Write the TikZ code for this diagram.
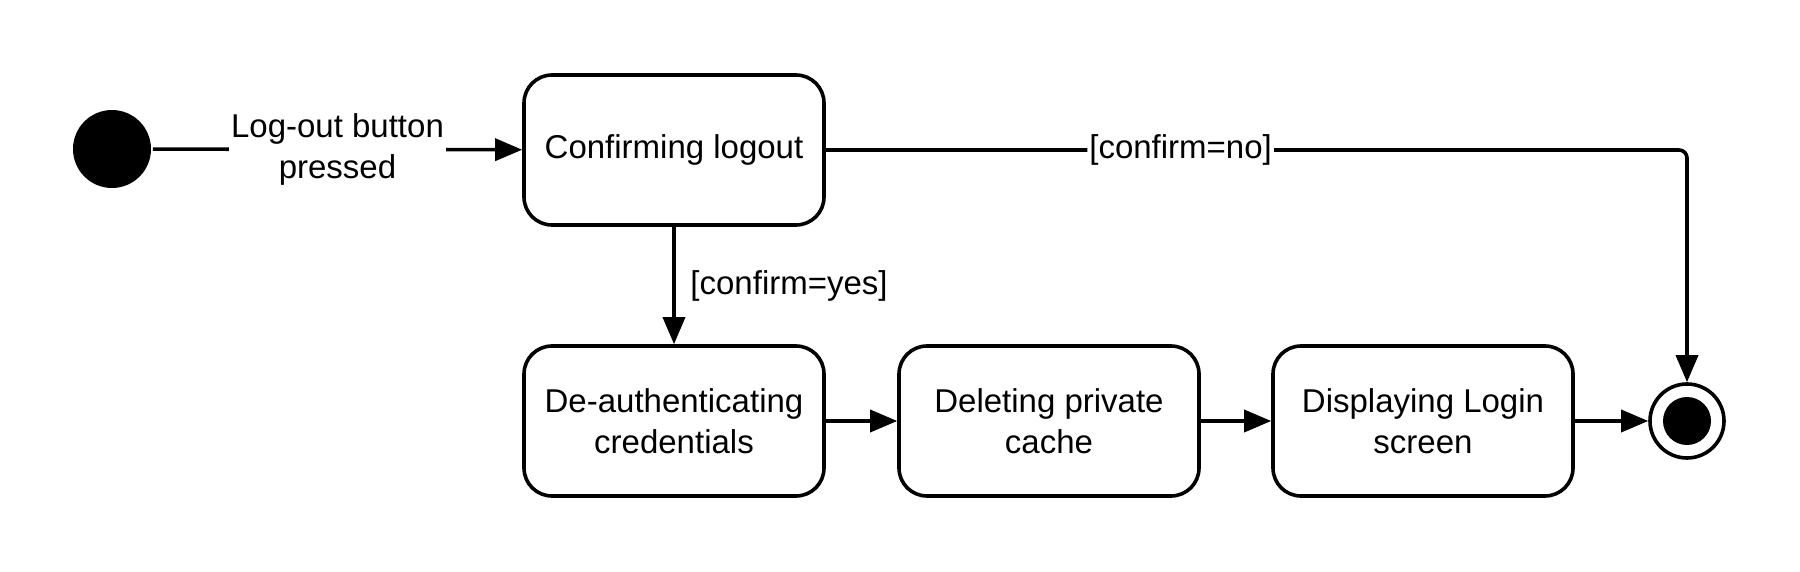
\documentclass[tikz,border=0pt]{standalone}
\usepackage{fontspec}
\setmainfont{Liberation Sans}
\usetikzlibrary{arrows.meta}

\begin{document}
\begin{tikzpicture}[x=0.5pt,y=-0.5pt,line width=1.8pt,
    every node/.style={font=\fontsize{16.5pt}{20.5pt}\selectfont},
    state/.style={draw,rounded corners=14pt,minimum width=150pt,minimum height=75pt,align=center,inner sep=2pt},
    trans/.style={-{Triangle[length=13.5pt,width=11pt]}},
    guard/.style={fill=white,inner sep=1pt,align=center}]
    \useasboundingbox (0,0) rectangle (1800,572);
    \node[fill=black,circle,minimum size=39pt,inner sep=0pt] (start) at (112,149) {};
    \node[state] (confirm) at (674,150) {Confirming logout};
    \node[state] (deauth) at (674,421) {De-authenticating\\credentials};
    \node[state] (cache) at (1049,421) {Deleting private\\cache};
    \node[state] (login) at (1423,421) {Displaying Login\\screen};
    \node[draw,circle,minimum size=37pt,inner sep=0pt] (final) at (1687,421) {};
    \node[fill=black,circle,minimum size=24pt,inner sep=0pt] (finaldot) at (final) {};
    \draw[trans] (start) -- node[guard]{Log-out button\\pressed} (confirm);
    \draw[trans,rounded corners=4pt] (confirm.east) -| node[guard,pos=0.206]{[confirm=no]} (final.north);
    \draw[trans] (confirm) -- node[right=4pt]{[confirm=yes]} (deauth);
    \draw[trans] (deauth) -- (cache);
    \draw[trans] (cache) -- (login);
    \draw[trans] (login) -- (final);
\end{tikzpicture}
\end{document}
